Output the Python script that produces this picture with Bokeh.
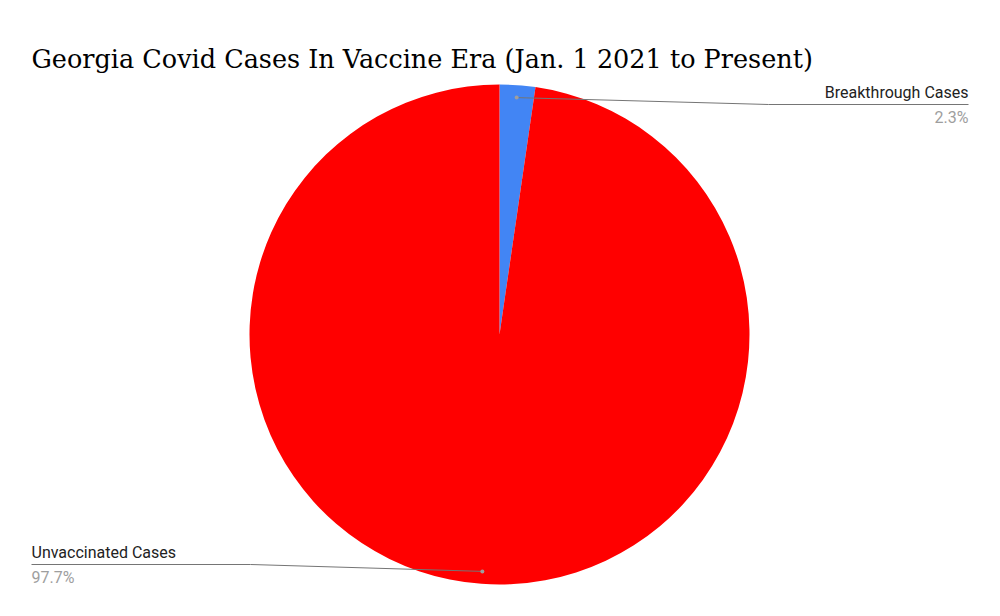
import numpy as np
from bokeh.plotting import figure
from bokeh.models import Range1d, ColumnDataSource
from bokeh.core.properties import value
from bokeh.embed import file_html
from bokeh.resources import INLINE

# ---- data ----
categories = ["Breakthrough Cases", "Unvaccinated Cases"]
shares = [2.3, 97.7]
colors = ["#4285f4", "#ff0000"]
title_text = "Georgia Covid Cases In Vaccine Era (Jan. 1 2021 to Present)"

W, H = 984, 600
p = figure(width=W, height=H, output_backend="svg", toolbar_location=None,
           x_range=Range1d(0, W), y_range=Range1d(0, H), min_border=0,
           background_fill_color="white", border_fill_color="white",
           outline_line_color=None)
p.axis.visible = False
p.grid.visible = False

# screenshot px -> data coords
def px(X):
    return X
def py(Y):
    return H - Y

cx, cy, R = px(499), py(334), 250

vals = np.array(shares, dtype=float)
frac = vals / vals.sum()
# clockwise from top
cum = np.concatenate([[0], np.cumsum(frac)]) * 2 * np.pi
starts_cw = cum[:-1]
ends_cw = cum[1:]
start_ang = np.pi / 2 - ends_cw
end_ang = np.pi / 2 - starts_cw
src = ColumnDataSource(dict(start=start_ang, end=end_ang, color=colors))
p.wedge(x=cx, y=cy, radius=R, start_angle="start", end_angle="end",
        fill_color="color", line_color=None, source=src)

# leader lines
mid_cw = (starts_cw + ends_cw) / 2
dot_r = 0.95 * R
dx = cx + dot_r * np.sin(mid_cw)
dy = cy + dot_r * np.cos(mid_cw)

line_col = "#757575"
bx_knee, by_line, bx_end = px(768), py(104), px(968)
p.line([dx[0], bx_knee, bx_end], [dy[0], by_line, by_line], line_color=line_col, line_width=1)
ux_knee, uy_line, ux_end = px(250), py(564), px(31)
p.line([dx[1], ux_knee, ux_end], [dy[1], uy_line, uy_line], line_color=line_col, line_width=1)
p.scatter(dx, dy, size=4, fill_color="#9e9e9e", line_color=None)

lab_font = value("Roboto")
fs = "16px"
pct = [f"{v:.1f}%" for v in frac * 100]
p.text([bx_end], [by_line + 3], text=[categories[0]], text_font=lab_font, text_font_size=fs,
       text_color="#222222", text_align="right", text_baseline="bottom")
p.text([bx_end], [by_line - 3], text=[pct[0]], text_font=lab_font, text_font_size=fs,
       text_color="#9e9e9e", text_align="right", text_baseline="top")
p.text([ux_end], [uy_line + 3], text=[categories[1]], text_font=lab_font, text_font_size=fs,
       text_color="#222222", text_align="left", text_baseline="bottom")
p.text([ux_end], [uy_line - 3], text=[pct[1]], text_font=lab_font, text_font_size=fs,
       text_color="#9e9e9e", text_align="left", text_baseline="top")

# title
p.text([px(31)], [py(58)], text=[title_text], text_font=value("DejaVu Serif"),
       text_font_size="25.5px", text_color="#000000", text_align="left", text_baseline="alphabetic")

open("out.html", "w").write(file_html(p, INLINE))
